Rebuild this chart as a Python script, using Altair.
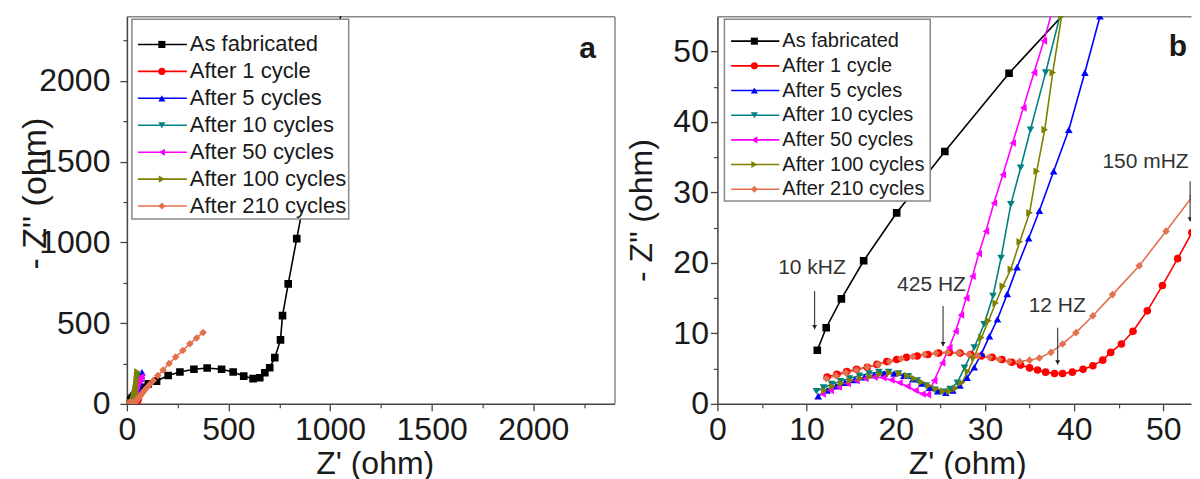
import altair as alt
import pandas as pd

FONT = "Liberation Sans"

SERIES = ["As fabricated", "After 1 cycle", "After 5 cycles", "After 10 cycles",
          "After 50 cycles", "After 100 cycles", "After 210 cycles"]
COLORS = ["#000000", "#FF0000", "#0000FF", "#008080", "#FF00FF", "#808000", "#E2714F"]
SHAPES = ["square", "circle", "triangle-up", "triangle-down", "triangle-left",
          "triangle-right", "diamond"]

fab_x = [11.2, 12.2, 13.9, 16.4, 20.1, 25.5, 32.7, 43, 58, 78, 105, 146, 203, 261, 330, 395,
         466, 523, 575, 621, 654, 679, 703, 728, 756, 766, 794, 836, 878, 925, 972, 1020, 1068]
fab_y = [7.6, 10.8, 14.9, 20.3, 27.1, 35.8, 46.9, 61, 80, 102, 124, 141, 176, 197, 214, 222,
         214, 197, 172, 156, 162, 193, 224, 286, 396, 546, 743, 1023, 1300, 1600, 1900, 2200, 2500]

c1_x = [12.3, 13.4, 14.5, 15.6, 16.8, 17.9, 19.0, 20.1, 21.2, 22.4, 23.6, 24.8, 26.0, 27.2,
        28.4, 29.6, 30.8, 31.9, 33.0, 34.0, 35.0, 35.9, 36.8, 37.8, 38.7, 39.8, 41.0, 42.1,
        43.2, 44.1, 45.3, 46.6, 48.2, 49.9, 51.6, 53.2, 56.5]
c1_y = [3.8, 4.2, 4.6, 4.9, 5.2, 5.6, 6.0, 6.3, 6.6, 6.8, 7.0, 7.2, 7.3, 7.2,
        7.0, 6.8, 6.6, 6.3, 5.9, 5.5, 5.1, 4.8, 4.5, 4.3, 4.3, 4.5, 4.9, 5.4,
        6.2, 7.3, 8.5, 10.3, 13.2, 16.8, 20.6, 24.3, 31.5]

c5_x = [11.3, 12.3, 13.3, 14.3, 15.4, 16.5, 17.6, 18.7, 19.8, 20.9, 21.9, 22.9, 23.8, 24.7,
        25.6, 26.4, 27.2, 28.0, 28.8, 29.6, 30.5, 31.4, 32.5, 33.6, 34.9, 36.1, 37.7, 39.4,
        41.2, 42.9, 45, 48, 51, 55, 59, 63, 67, 71, 74]
c5_y = [1.1, 1.9, 2.5, 3.0, 3.4, 3.8, 4.1, 4.3, 4.3, 4.0, 3.5, 2.9, 2.3, 1.8,
        1.6, 1.9, 2.6, 3.7, 5.2, 7.1, 9.6, 12.0, 15.6, 19.4, 23.5, 27.4, 33.0, 38.9,
        47, 55, 64, 76, 90, 105, 121, 138, 156, 175, 195]

c10_x = [11.1, 11.9, 12.8, 13.8, 14.8, 15.9, 17.0, 18.1, 19.2, 20.3, 21.4, 22.4, 23.4, 24.4,
         25.3, 26.1, 26.9, 27.7, 28.8, 29.9, 30.9, 31.8, 32.9, 34.0, 35.1, 36.8, 38.4, 40,
         42, 44, 46, 48, 50, 52, 54]
c10_y = [1.8, 2.3, 2.8, 3.2, 3.6, 4.0, 4.3, 4.5, 4.5, 4.3, 3.9, 3.3, 2.6, 2.0,
         1.7, 2.1, 3.0, 5.1, 8.0, 11.3, 15.3, 20.7, 28.3, 33.5, 38.9, 47, 55, 63,
         73, 85, 99, 115, 133, 153, 175]

c50_x = [11.8, 12.7, 13.6, 14.6, 15.6, 16.6, 17.6, 18.6, 19.5, 20.4, 21.3, 22.2, 23.0, 23.6,
         24.3, 25.2, 26.0, 26.7, 27.3, 27.9, 28.6, 29.3, 30.1, 31.0, 32.0, 33.1, 34.3, 35.5,
         36.6, 37.6, 38.6, 41, 44, 48, 53, 59, 65, 71]
c50_y = [1.4, 1.9, 2.4, 2.9, 3.3, 3.6, 3.8, 3.7, 3.4, 3.0, 2.5, 1.9, 1.4, 1.3,
         3.3, 5.8, 8.0, 10.3, 12.6, 15.0, 18.1, 21.3, 24.5, 28.5, 32.5, 37.0, 42.0, 47.0,
         51.5, 56, 61, 75, 92, 110, 128, 145, 158, 168]

c100_x = [12.0, 12.9, 13.9, 14.9, 16.0, 17.1, 18.2, 19.3, 20.4, 21.3, 22.1, 22.9, 23.7, 24.5,
          25.3, 26.0, 26.7, 27.4, 28.1, 28.8, 29.6, 30.4, 31.2, 32.0, 32.9, 33.9, 35.0, 35.8,
          36.7, 37.6, 38.6, 40, 41.5, 43, 44.5, 46, 47.5, 49, 50.5, 52]
c100_y = [1.9, 2.5, 2.9, 3.3, 3.6, 3.9, 4.2, 4.4, 4.3, 4.0, 3.6, 3.1, 2.6, 2.1,
          1.8, 1.8, 2.2, 3.0, 4.6, 6.6, 9.4, 11.8, 14.3, 16.7, 19.1, 23.0, 27.1, 33,
          38.9, 47, 55, 62, 72, 84, 98, 114, 132, 152, 174, 198]

c210_x = [12.2, 13.3, 14.4, 15.6, 16.8, 18.0, 19.3, 20.6, 21.9, 23.2, 24.5, 25.8, 27.1, 28.2,
          29.2, 30.5, 31.6, 32.7, 33.9, 35.0, 36.1, 37.4, 38.7, 40.2, 42.1, 44.3, 47.3, 50.3,
          53.3, 56.5, 60, 65, 71, 78, 87, 98, 112, 130, 152, 178, 208, 240, 275, 310, 343, 375]
c210_y = [3.6, 4.0, 4.4, 4.8, 5.2, 5.6, 6.0, 6.4, 6.7, 7.0, 7.2, 7.3, 7.2, 7.0,
          6.8, 6.6, 6.3, 6.0, 6.0, 6.2, 6.5, 7.3, 8.5, 10.1, 12.5, 15.5, 19.6, 24.5,
          29.5, 35, 41, 49, 59, 70, 84, 100, 120, 145, 175, 210, 250, 290, 330, 372, 408, 442]

ALL_X = [fab_x, c1_x, c5_x, c10_x, c50_x, c100_x, c210_x]
ALL_Y = [fab_y, c1_y, c5_y, c10_y, c50_y, c100_y, c210_y]

# frequency annotations (panel b)
ANN_TEXT = ["10 kHZ", "425 HZ", "12 HZ", "150 mHZ"]
ANN_TX = [10.6, 24.0, 38.1, 48.0]
ANN_TY = [19.3, 16.9, 13.9, 34.3]
ANN_AX = [10.9, 25.3, 38.15, 53.0]
ANN_A1 = [16.0, 13.9, 10.8, 31.6]
ANN_A2 = [10.6, 8.2, 5.6, 25.9]

rows = []
for name, xs_, ys_ in zip(SERIES, ALL_X, ALL_Y):
    for i, (a, b) in enumerate(zip(xs_, ys_)):
        rows.append({"name": name, "ord": i, "x": a, "y": b})
df = pd.DataFrame(rows)

leg_df = pd.DataFrame({"name": SERIES, "idx": list(range(len(SERIES)))})
ann_df = pd.DataFrame({"t": ANN_TEXT, "tx": ANN_TX, "ty": ANN_TY,
                       "ax": ANN_AX, "a1": ANN_A1, "a2": ANN_A2})
one = pd.DataFrame({"k": [0]})

cs = alt.Scale(domain=SERIES, range=COLORS)
ss = alt.Scale(domain=SERIES, range=SHAPES)

AX = dict(domainColor="#444", tickColor="#444", labelColor="#1a1a1a", titleColor="#1a1a1a",
          labelFont=FONT, titleFont=FONT, titleFontWeight="normal", grid=False,
          domainWidth=1.5, tickWidth=1.3, labelFlush=False, format="d")
FRAME = dict(labels=False, ticks=False, title="", domainColor="#888", domainWidth=1.5,
             grid=False)


def panel(xdom, ydom, w, h, xmaj, xmin, ymaj, ymin, ytx, yty, ytsize, ylabpad, xtx,
          leg, tag, tagx, tagy, annotate, right_frame):
    xs = alt.Scale(domain=xdom, nice=False, zero=False)
    ys = alt.Scale(domain=ydom, nice=False, zero=False)
    xmain = alt.Axis(orient="bottom", values=xmaj, tickSize=7, labelFontSize=32, labelPadding=4,
                     title="Z' (ohm)", titleFontSize=32, titleX=xtx, titleY=70,
                     titleBaseline="alphabetic", titleAlign="center", **AX)
    ymain = alt.Axis(orient="left", values=ymaj, tickSize=7, labelFontSize=32,
                     labelPadding=ylabpad, title='- Z" (ohm)', titleFontSize=ytsize,
                     titleX=ytx, titleY=yty, titleAngle=270, titleBaseline="alphabetic",
                     titleAlign="center", **AX)
    xminor = alt.Axis(orient="bottom", values=xmin, tickSize=4, labels=False, domain=False,
                      title="", tickColor="#444", tickWidth=1.2, grid=False)
    yminor = alt.Axis(orient="left", values=ymin, tickSize=4, labels=False, domain=False,
                      title="", tickColor="#444", tickWidth=1.2, grid=False)

    base = alt.Chart(df)
    frame = base.mark_point(opacity=0, clip=True).encode(
        x=alt.X("x:Q", scale=xs, axis=alt.Axis(orient="top", **FRAME)),
        y=alt.Y("y:Q", scale=ys,
                axis=alt.Axis(orient="right", **FRAME) if right_frame else None),
    )
    lines = base.mark_line(strokeWidth=1.6, clip=True).encode(
        x=alt.X("x:Q", scale=xs, axis=xmain),
        y=alt.Y("y:Q", scale=ys, axis=ymain),
        color=alt.Color("name:N", scale=cs, legend=None),
        order=alt.Order("ord:Q"),
    )
    pts = base.mark_point(filled=True, size=58, opacity=1, clip=True).encode(
        x=alt.X("x:Q", scale=xs, axis=xminor),
        y=alt.Y("y:Q", scale=ys, axis=yminor),
        color=alt.Color("name:N", scale=cs, legend=None),
        shape=alt.Shape("name:N", scale=ss, legend=None),
    )
    layers = [frame, lines, pts]

    if annotate:
        ab = alt.Chart(ann_df)
        layers.append(ab.mark_text(font=FONT, fontSize=21, color="#333", align="center",
                                   baseline="middle").encode(
            x=alt.X("tx:Q", scale=xs, axis=None), y=alt.Y("ty:Q", scale=ys, axis=None),
            text="t:N"))
        layers.append(ab.mark_rule(color="#333", strokeWidth=1.1, clip=True).encode(
            x=alt.X("ax:Q", scale=xs, axis=None), y=alt.Y("a1:Q", scale=ys, axis=None),
            y2="a2:Q"))
        layers.append(ab.mark_point(shape="triangle-down", filled=True, size=24, color="#222",
                                    opacity=1, yOffset=-2, clip=True).encode(
            x=alt.X("ax:Q", scale=xs, axis=None), y=alt.Y("a2:Q", scale=ys, axis=None)))

    bx0, bx1, by0, by1, r0, dr, lx0, lx1, mx, tx, fs = leg
    layers.append(alt.Chart(one).mark_rect(fill="white", stroke="#888", strokeWidth=1.5).encode(
        x=alt.value(bx0), x2=alt.value(bx1), y=alt.value(by0), y2=alt.value(by1)))
    lb = alt.Chart(leg_df).transform_calculate(ly=f"{r0} + datum.idx * {dr}")
    layers.append(lb.mark_rule(strokeWidth=1.6).encode(
        x=alt.value(lx0), x2=alt.value(lx1), y=alt.Y("ly:Q", scale=None, axis=None),
        color=alt.Color("name:N", scale=cs, legend=None)))
    layers.append(lb.mark_point(filled=True, size=50, opacity=1).encode(
        x=alt.value(mx), y=alt.Y("ly:Q", scale=None, axis=None),
        color=alt.Color("name:N", scale=cs, legend=None),
        shape=alt.Shape("name:N", scale=ss, legend=None)))
    layers.append(lb.mark_text(font=FONT, fontSize=fs, color="#1a1a1a", align="left",
                               baseline="middle").encode(
        x=alt.value(tx), y=alt.Y("ly:Q", scale=None, axis=None), text="name:N"))

    layers.append(alt.Chart(one).mark_text(font=FONT, fontSize=30, fontWeight="bold",
                                           color="#1a1a1a", align="center",
                                           baseline="alphabetic", text=tag).encode(
        x=alt.value(tagx), y=alt.value(tagy)))

    return alt.layer(*layers).resolve_axis(x="independent", y="independent").properties(
        width=w, height=h)


left = panel([0, 2400], [0, 2400], 488, 388,
             [0, 500, 1000, 1500, 2000], [250, 750, 1250, 1750, 2250],
             [0, 500, 1000, 1500, 2000], [250, 750, 1250, 1750, 2250],
             -81, 177, 34, 10, 248,
             (5, 222, 3, 203, 28.3, 26.95, 11, 60, 35, 63, 22),
             "a", 461, 42, False, True)

right = panel([0, 53.1], [0, 55], 474, 388,
              [0, 10, 20, 30, 40, 50], [5, 15, 25, 35, 45],
              [0, 10, 20, 30, 40, 50], [5, 15, 25, 35, 45],
              -66, 194, 32, 2, 250,
              (7, 213, 3, 185, 25, 24.7, 13.7, 62, 37, 65, 20),
              "b", 461, 40, True, False)

chart = alt.hconcat(left, right, spacing=103, bounds="flush").properties(
    padding={"left": 10, "top": 7, "right": 0, "bottom": 0}
).configure(font=FONT).configure_view(stroke="transparent")

chart.save("out.html", embed_options={"renderer": "svg", "actions": False})
